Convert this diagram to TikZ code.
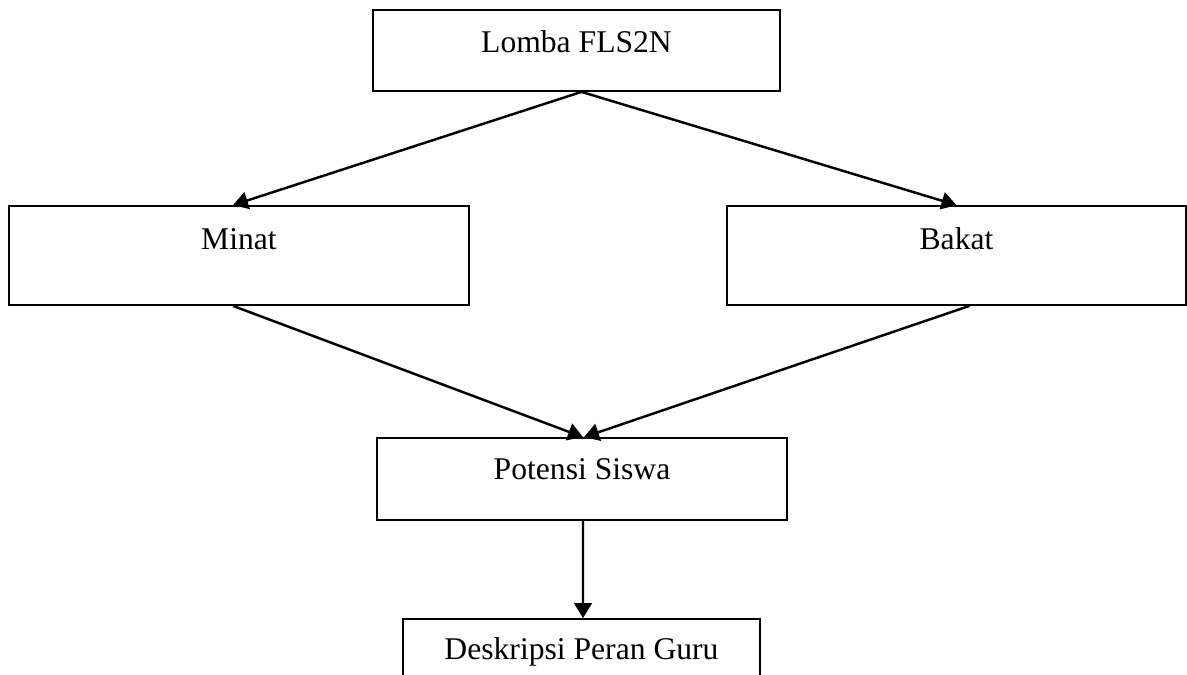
\documentclass[tikz,border=0pt]{standalone}
\usepackage{fontspec}
\setmainfont{Liberation Serif}
\usetikzlibrary{calc,arrows.meta,positioning}
\tikzset{
  box/.style={draw,line width=1pt,rectangle,inner sep=0pt,font=\fontsize{18}{21}\selectfont},
  flow/.style={-{Triangle[length=8.5pt,width=10pt]},line width=1.4pt},
}

\begin{document}
\begin{tikzpicture}[x=0.02cm,y=-0.02cm]
\clip (0,0) rectangle (1187,674);
% boxes
\node[box,minimum width=8.14cm,text height=0.84cm,text depth=0.78cm] (lomba) at (576.5,50.5) {Lomba FLS2N};
\node[box,minimum width=9.2cm,text height=0.86cm,text depth=1.12cm] (minat) at (239,255.5) {Minat};
\node[box,minimum width=9.18cm,text height=0.86cm,text depth=1.12cm] (bakat) at (956.5,255.5) {Bakat};
\node[box,minimum width=8.2cm,text height=0.82cm,text depth=0.82cm] (potensi) at (582,479) {Potensi Siswa};
\node[box,minimum width=7.14cm,text height=0.8cm,text depth=1.2cm] (deskripsi) at (581.5,669) {Deskripsi Peran Guru};
% arrows
\draw[flow] ($(lomba.south)+(5,0)$) -- ($(minat.north)+(-6,0)$);
\draw[flow] ($(lomba.south)+(5,0)$) -- (bakat.north);
\draw[flow] ($(minat.south)+(-6,0)$) -- ($(potensi.north)+(1,0)$);
\draw[flow] ($(bakat.south)+(13,0)$) -- ($(potensi.north)+(2,0)$);
\draw[flow] ($(potensi.south)+(1,0)$) -- ($(deskripsi.north)+(1.5,0)$);
\end{tikzpicture}
\end{document}
